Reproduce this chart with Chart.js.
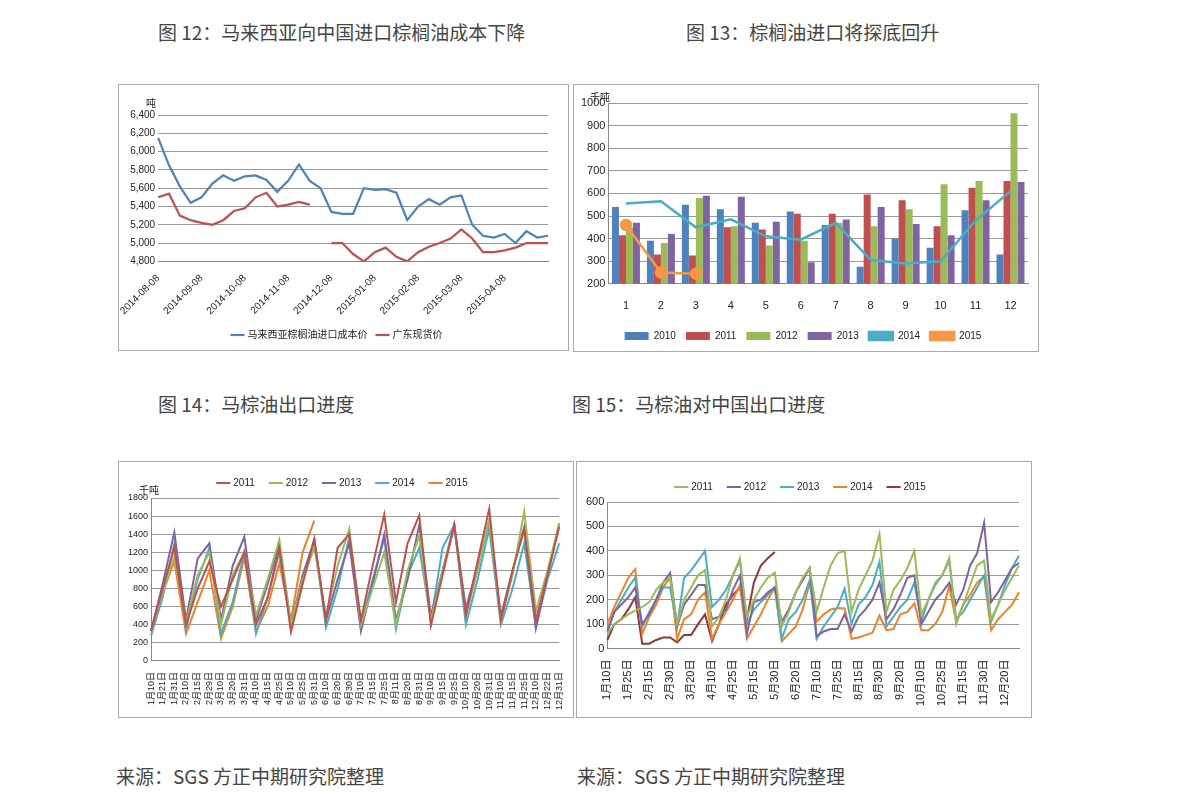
<!DOCTYPE html>
<html><head><meta charset="utf-8">
<script src="https://cdn.jsdelivr.net/npm/chart.js@4"></script>
<style>
body{margin:0;width:1191px;height:806px;background:#fff;position:relative;font-family:"Noto Sans CJK SC",sans-serif;color:#444}
.t{position:absolute;font-size:19px;white-space:nowrap}
.box{position:absolute;border:1px solid #aaa;background:#fff}
.u{position:absolute;font-size:10px;color:#222}
</style></head><body>
<div class="t" style="left:158px;top:18px">图 12：马来西亚向中国进口棕榈油成本下降</div>
<div class="t" style="left:686px;top:18px">图 13：棕榈油进口将探底回升</div>
<div class="t" style="left:158px;top:390px">图 14：马棕油出口进度</div>
<div class="t" style="left:572px;top:390px">图 15：马棕油对中国出口进度</div>
<div class="t" style="left:116px;top:762px">来源：SGS 方正中期研究院整理</div>
<div class="t" style="left:577px;top:762px">来源：SGS 方正中期研究院整理</div>

<div class="box" style="left:118px;top:84px;width:449px;height:265px"><canvas id="c12"></canvas><div class="u" style="left:27px;top:10px">吨</div></div>
<div class="box" style="left:573px;top:84px;width:464px;height:266px"><canvas id="c13"></canvas><div class="u" style="left:16px;top:4px">千吨</div></div>
<div class="box" style="left:118px;top:461px;width:454px;height:255px"><canvas id="c14"></canvas><div class="u" style="left:20px;top:20px">千吨</div></div>
<div class="box" style="left:576px;top:461px;width:454px;height:255px"><canvas id="c15"></canvas></div>

<script>
// ---- chart 12 data (weekly) ----
const dates12 = ['2014-08-08','2014-08-15','2014-08-22','2014-08-29','2014-09-08','2014-09-15','2014-09-22','2014-09-29',
  '2014-10-08','2014-10-15','2014-10-22','2014-10-29','2014-11-08','2014-11-15','2014-11-22','2014-11-29',
  '2014-12-08','2014-12-15','2014-12-22','2014-12-29','2015-01-08','2015-01-15','2015-01-22','2015-01-29',
  '2015-02-08','2015-02-15','2015-02-22','2015-02-28','2015-03-08','2015-03-15','2015-03-22','2015-03-29',
  '2015-04-08','2015-04-15','2015-04-22','2015-04-29','2015-05-06'];
const cost12 = [6150,5850,5620,5440,5500,5650,5740,5680,5730,5740,5690,5560,5680,5860,5680,5600,
  5340,5320,5320,5600,5580,5590,5550,5250,5400,5480,5420,5500,5520,5200,5080,5060,5100,5000,5130,5060,5080];
const spot12 = [5500,5540,5300,5250,5220,5200,5250,5350,5380,5500,5550,5400,5420,5450,5420,null,
  5000,5000,4880,4800,4900,4950,4850,4800,4900,4960,5000,5050,5150,5050,4900,4900,4920,4950,5000,5000,5000];

// ---- chart 13 data ----
const months13 = ['1','2','3','4','5','6','7','8','9','10','11','12'];
const imp2010 = [540,390,550,530,470,520,460,275,400,360,525,330];
const imp2011 = [415,330,325,450,440,510,510,595,570,455,625,655];
const imp2012 = [450,380,580,455,370,390,470,455,530,640,655,955];
const imp2013 = [470,420,590,585,475,295,485,540,465,415,570,650];
const imp2014 = [555,565,450,485,410,395,470,305,290,300,480,610];
const imp2015 = [460,250,245];

// ---- chart 14 data (3 points per month) ----
const days14 = ['1月10日','1月21日','1月31日','2月10日','2月15日','2月29日','3月10日','3月20日','3月31日',
  '4月10日','4月15日','4月25日','5月10日','5月25日','5月31日','6月10日','6月20日','6月30日',
  '7月10日','7月15日','7月25日','8月11日','8月20日','8月31日','9月10日','9月15日','9月25日',
  '10月10日','10月20日','10月31日','11月10日','11月15日','11月25日','12月10日','12月22日','12月31日'];
const exp2011 = [330,800,1250,400,800,1100,600,900,1200,400,700,1250,320,850,1350,450,1250,1400,
  450,1050,1620,650,1300,1610,390,950,1500,500,1100,1680,450,1000,1450,450,950,1480];
const exp2012 = [330,750,1150,420,950,1200,400,950,1200,500,900,1340,400,900,1250,500,1050,1460,
  400,800,1200,400,1000,1380,450,1000,1480,500,1000,1560,450,950,1650,550,1000,1520];
const exp2013 = [330,850,1420,450,1130,1300,450,1050,1370,450,850,1290,400,950,1330,450,900,1300,
  330,850,1400,450,900,1500,500,1000,1510,580,1050,1550,500,1000,1480,360,950,1520];
const exp2014 = [280,700,1300,350,900,1250,300,650,1200,300,700,1200,380,900,1340,370,800,1370,
  400,900,1350,350,950,1250,450,1250,1500,400,900,1460,400,800,1300,380,900,1300];
const exp2015 = [330,750,1100,300,650,1000,250,600,1140,330,600,1080,450,1200,1550];

// ---- chart 15 data (5 points per month) ----
const days15 = [];
['1','2','3','4','5','6','7','8','9','10','11','12'].forEach(m => {
  ['10日','15日','20日','25日','30日'].forEach(d => days15.push(m + '月' + d));
});
const cn2011 = [60,100,120,140,155, 170,190,240,270,290, 100,200,250,300,320, 90,130,200,300,370,
  130,200,250,290,310, 90,150,230,290,330, 150,250,340,390,400, 150,240,300,360,470,
  150,240,280,330,400, 140,200,270,300,370, 100,180,260,340,360, 120,180,240,290,340];
const cn2012 = [70,150,180,210,250, 100,140,200,270,310, 90,180,220,260,260, 120,130,160,240,300,
  60,190,200,230,250, 110,160,230,280,330, 50,70,80,80,140, 70,130,160,200,270,
  120,160,220,290,300, 100,150,200,230,270, 180,240,340,390,515, 190,230,280,330,350];
const cn2013 = [70,150,200,250,290, 90,150,200,250,250, 90,290,320,360,400, 170,200,240,300,360,
  100,160,190,220,250, 40,120,150,200,280, 40,90,130,170,245, 100,180,210,260,355,
  90,130,170,200,270, 110,200,260,300,360, 120,150,200,250,300, 110,180,260,330,380];
const cn2014 = [100,170,230,290,325, 60,130,180,250,290, 40,120,140,200,230, 40,100,150,200,260,
  40,90,140,200,250, 30,60,90,160,270, 110,140,160,165,165, 40,45,55,65,135,
  75,80,140,150,185, 75,75,100,150,255, 110,180,220,270,295, 75,120,150,180,230];
const cn2015 = [35,100,120,160,210, 20,20,35,45,45, 25,55,55,100,140, 30,100,180,220,250, 120,270,340,370,395];

Chart.defaults.font.family = 'Arial, "Liberation Sans", "Noto Sans CJK SC"';
Chart.defaults.color = '#222';
Chart.defaults.animation = false;

const grid = {color: '#999', drawTicks: false};
const plain = v => String(v);
function lineDs(label, data, color, w) {
  return {type: 'line', label: label, data: data, borderColor: color, backgroundColor: color,
    borderWidth: w || 2, pointRadius: 0, tension: 0, spanGaps: false};
}
const lineLegend = {usePointStyle: true, pointStyle: 'line', boxWidth: 24, font: {size: 10}};

new Chart(document.getElementById('c12'), {
  type: 'line',
  data: {labels: dates12, datasets: [
    lineDs('马来西亚棕榈油进口成本价', cost12, '#4F81BD', 2.2),
    lineDs('广东现货价', spot12, '#C0504D', 2.2)]},
  options: {responsive: true, maintainAspectRatio: false,
    layout: {padding: {top: 30, right: 20, left: 8}},
    plugins: {legend: {position: 'bottom', labels: lineLegend}},
    scales: {
      x: {grid: {display: false}, border: {color: '#888'},
        ticks: {autoSkip: false, maxRotation: 45, minRotation: 45, font: {size: 10},
          callback: function(v) { const s = this.getLabelForValue(v); return s.endsWith('-08') ? s : null; }}},
      y: {min: 4800, max: 6400, grid: grid, border: {display: false},
        ticks: {stepSize: 200, font: {size: 10}, callback: v => v.toLocaleString('en-US')}}
    }}
});

new Chart(document.getElementById('c13'), {
  type: 'bar',
  data: {labels: months13, datasets: [
    {label: '2010', data: imp2010, backgroundColor: '#4F81BD'},
    {label: '2011', data: imp2011, backgroundColor: '#C0504D'},
    {label: '2012', data: imp2012, backgroundColor: '#9BBB59'},
    {label: '2013', data: imp2013, backgroundColor: '#8064A2'},
    Object.assign(lineDs('2014', imp2014, '#4BACC6', 2.5), {order: -1}),
    Object.assign(lineDs('2015', imp2015, '#F79646', 2.5), {order: -2, pointRadius: 5, pointStyle: 'circle'})]},
  options: {responsive: true, maintainAspectRatio: false,
    layout: {padding: {top: 18, right: 10, left: 4}},
    datasets: {bar: {categoryPercentage: 0.8, barPercentage: 1}},
    plugins: {legend: {position: 'bottom',
      labels: {boxWidth: 24, boxHeight: 8, font: {size: 10}, sort: (a, b) => a.datasetIndex - b.datasetIndex}}},
    scales: {
      x: {grid: {display: false}, border: {color: '#888'}, ticks: {font: {size: 11}, padding: 8}},
      y: {min: 200, max: 1000, grid: grid, border: {color: '#888'}, ticks: {stepSize: 100, font: {size: 11}, callback: plain}}
    }}
});

new Chart(document.getElementById('c14'), {
  type: 'line',
  data: {labels: days14, datasets: [
    lineDs('2011', exp2011, '#C0504D'), lineDs('2012', exp2012, '#9BBB59'),
    lineDs('2013', exp2013, '#8064A2'), lineDs('2014', exp2014, '#4BACC6'),
    lineDs('2015', exp2015, '#F0822A')]},
  options: {responsive: true, maintainAspectRatio: false,
    layout: {padding: {right: 12, left: 6, bottom: 4}},
    plugins: {legend: {position: 'top', labels: Object.assign({}, lineLegend, {padding: 16})}},
    scales: {
      x: {grid: {display: false}, border: {color: '#888'},
        ticks: {autoSkip: false, maxRotation: 90, minRotation: 90, font: {size: 9}}},
      y: {min: 0, max: 1800, grid: grid, border: {color: '#888'}, ticks: {stepSize: 200, font: {size: 9}, callback: plain}}
    }}
});

new Chart(document.getElementById('c15'), {
  type: 'line',
  data: {labels: days15, datasets: [
    lineDs('2011', cn2011, '#9BBB59'), lineDs('2012', cn2012, '#8064A2'),
    lineDs('2013', cn2013, '#4BACC6'), lineDs('2014', cn2014, '#F0822A'),
    lineDs('2015', cn2015, '#953735')]},
  options: {responsive: true, maintainAspectRatio: false,
    layout: {padding: {right: 12, left: 6, bottom: 8, top: 4}},
    plugins: {legend: {position: 'top', labels: Object.assign({}, lineLegend, {padding: 16})}},
    scales: {
      x: {grid: {display: false}, border: {color: '#888'},
        ticks: {autoSkip: true, maxTicksLimit: 20, maxRotation: 90, minRotation: 90, font: {size: 11}}},
      y: {min: 0, max: 600, grid: grid, border: {color: '#888'}, ticks: {stepSize: 100, font: {size: 11}}}
    }}
});
</script>
</body></html>
